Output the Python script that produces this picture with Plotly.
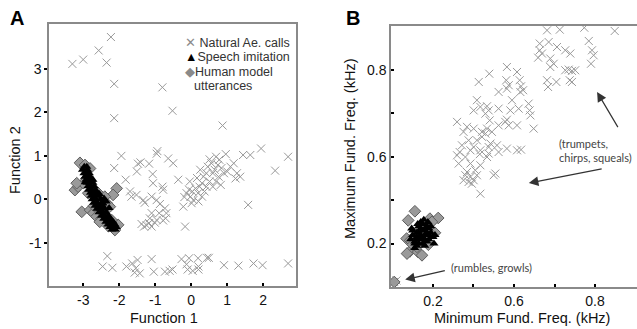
import plotly.graph_objects as go

# ---------------- Panel A data ----------------
a_nat_x = [-3.30, -3.00, -2.57, -2.23, -2.35, -2.14, -2.14, -0.80, -0.52, 0.87, 1.94, 2.69, 2.33, 1.58,
           -1.94, -2.14, -1.82, -1.48, -1.51, -1.41, -1.17, -1.07, -1.06, -0.96, -0.94, -0.64, -0.50, -0.36,
           -0.80, -0.78, -1.70, -1.66, -1.52, -1.33, -1.29, -1.10, -0.96, -0.87, -0.73, -0.69, -0.71, -0.78,
           -1.10, -1.15, -1.38, -1.31, -1.24, -1.17, -1.10, -1.01, -0.96, -0.89,
           -0.17, -0.22, -0.19, -0.13, -0.06, -0.02, 0.03, 0.12, 0.19, 0.23, 0.30, 0.25, 0.34, 0.42, 0.46,
           0.51, 0.56, 0.60, 0.65, 0.69, 0.74, 0.78, 0.84, 0.91, 0.96, 1.00, 1.09, 1.18, 1.23, 1.27, 1.36,
           1.44, 1.64, 0.42, 0.51, 0.37, 0.30, 0.20, 0.06, 0.01, -0.04, 0.16, 0.69, 0.82, 0.60, 0.76,
           -2.33, -2.46, -2.19, -1.80, -1.64, -1.54, -1.49, -1.57, -1.43, -1.10, -1.04, -0.73, -0.60, -0.52,
           -0.27, -0.13, -0.06, -0.10, 0.04, 0.20, 0.20, 0.19, 0.44, 0.49, 0.91, 1.31, 1.73, 1.98, 2.69]
a_nat_y = [3.12, 3.22, 3.43, 3.74, 3.15, 2.66, 1.87, 2.58, 2.04, 1.70, 1.17, 0.98, 0.66, -0.13,
           1.00, 0.72, 0.45, 0.82, 0.64, 0.85, 0.82, 0.58, 0.37, 1.05, 1.11, 0.94, 0.83, 0.45,
           0.29, 0.22, 0.18, 0.06, 0.10, -0.02, -0.08, 0.06, -0.02, -0.11, -0.21, -0.32, -0.44, -0.49,
           -0.32, -0.44, -0.57, -0.63, -0.60, -0.55, -0.63, -0.54, -0.48, -0.32,
           -0.63, -0.17, 0.05, 0.14, 0.22, 0.06, 0.18, 0.25, 0.14, 0.29, 0.37, 0.68, 0.52, 0.60, 0.75,
           0.92, 0.83, 0.60, 0.68, 0.98, 0.79, 0.91, 0.72, 0.60, 1.04, 0.64, 0.75, 0.83, 0.48, 0.60, 0.52,
           1.02, 1.02, 0.29, 0.41, 0.18, 0.06, -0.05, -0.02, -0.09, 0.41, 0.49, 0.41, 0.33, 0.29, 0.52,
           -1.31, -1.55, -1.58, -1.55, -1.48, -1.59, -1.40, -1.69, -1.71, -1.38, -1.67, -1.67, -1.65, -1.62,
           -1.38, -1.50, -1.36, -1.62, -1.65, -1.55, -1.62, -1.36, -1.35, -1.35, -1.52, -1.53, -1.48, -1.52, -1.48]

a_sp_x = [-2.97, -2.90, -3.02, -2.88, -2.98, -2.83, -2.91, -2.95, -2.80, -2.87, -2.92, -2.76, -2.85,
          -2.90, -2.73, -2.82, -2.87, -2.69, -2.79, -2.85, -2.66, -2.76, -2.80, -2.62, -2.71,
          -2.78, -2.58, -2.68, -2.75, -2.52, -2.65, -2.71, -2.49, -2.61, -2.67, -2.46, -2.57,
          -2.62, -2.42, -2.52, -2.56, -2.36, -2.46, -2.49, -2.30, -2.40, -2.43, -2.24, -2.33,
          -2.37, -2.17, -2.27, -2.31, -2.12, -2.21, -2.26, -2.08, -2.17, -2.20, -2.11,
          -2.42, -2.36, -2.45, -2.28, -2.55, -2.73, -2.94]
a_sp_y = [0.75, 0.75, 0.68, 0.68, 0.60, 0.60, 0.60, 0.52, 0.52, 0.52, 0.45, 0.45, 0.45,
          0.38, 0.38, 0.38, 0.30, 0.30, 0.30, 0.22, 0.22, 0.22, 0.15, 0.15, 0.15,
          0.08, 0.08, 0.08, 0.00, 0.00, 0.00, -0.08, -0.08, -0.08, -0.15, -0.15, -0.15,
          -0.22, -0.22, -0.22, -0.30, -0.30, -0.30, -0.38, -0.38, -0.38, -0.45, -0.45, -0.45,
          -0.52, -0.52, -0.52, -0.58, -0.58, -0.58, -0.64, -0.64, -0.64, -0.70, -0.70,
          0.02, -0.05, -0.10, -0.20, 0.12, 0.45, 0.40]

a_hm_x = [-3.09, -3.23, -3.14, -3.00, -2.86, -3.04, -2.81, -2.72, -2.63, -2.49, -2.54, -2.35, -2.07,
          -2.17, -2.03, -2.12, -2.95, -2.81, -2.91, -3.18, -2.58, -2.40, -2.40, -2.21, -2.26, -2.70, -2.30]
a_hm_y = [0.84, 0.21, 0.29, 0.37, 0.14, -0.29, -0.25, -0.32, -0.40, -0.44, -0.52, -0.09, 0.25,
          0.10, -0.59, -0.71, 0.79, 0.71, 0.48, 0.37, 0.14, 0.06, -0.36, -0.48, -0.17, -0.15, -0.62]

a_xticks = [-3, -2, -1, 0, 1, 2]
a_xtext = ["-3", "-2", "-1", "0", "1", "2"]
a_yticks = [-1, 0, 1, 2, 3]
a_ytext = ["-1", "0", "1", "2", "3"]

# ---------------- Panel B data ----------------
b_nat_x = [0.763, 0.826, 0.947, 1.097, 0.969, 0.727, 0.771, 0.727, 0.738, 0.719, 0.812, 0.853, 0.878,
           0.779, 0.796, 0.779, 0.985, 0.993, 0.980, 0.853, 0.870, 0.886, 0.902, 0.886, 0.875, 0.763,
           0.809, 0.768,
           0.478, 0.426, 0.565, 0.615, 0.628, 0.562, 0.574, 0.565, 0.635, 0.645, 0.631, 0.524, 0.590,
           0.417, 0.434, 0.467, 0.475, 0.459, 0.401, 0.524, 0.582, 0.672, 0.677, 0.681, 0.623, 0.615,
           0.319, 0.368, 0.401, 0.467, 0.480, 0.491, 0.524, 0.557, 0.574, 0.565, 0.697, 0.442,
           0.351, 0.376, 0.417, 0.442, 0.459, 0.401, 0.385, 0.434, 0.431, 0.475, 0.484, 0.516,
           0.343, 0.332, 0.319, 0.327, 0.360, 0.385, 0.475, 0.467, 0.565, 0.615, 0.635, 0.524,
           0.368, 0.360, 0.385, 0.376, 0.392, 0.401, 0.351, 0.417, 0.434, 0.500, 0.508, 0.409, 0.434,
           0.009, 0.020]
b_nat_y = [1.183, 1.186, 1.195, 1.180, 1.134, 1.122, 1.129, 1.091, 1.076, 1.057, 1.106, 1.091, 1.076,
           1.053, 1.029, 1.014, 1.091, 1.068, 1.029, 0.999, 1.002, 0.996, 0.999, 0.945, 0.953, 0.953,
           0.945, 0.922,
           0.983, 0.945, 1.014, 0.991, 0.953, 0.953, 0.930, 0.914, 0.925, 0.907, 0.899, 0.899, 0.861,
           0.861, 0.830, 0.833, 0.814, 0.799, 0.814, 0.822, 0.814, 0.845, 0.814, 0.791, 0.822, 0.745,
           0.761, 0.738, 0.730, 0.730, 0.768, 0.715, 0.745, 0.761, 0.745, 0.771, 0.730, 0.715,
           0.715, 0.676, 0.676, 0.692, 0.707, 0.645, 0.630, 0.630, 0.612, 0.645, 0.661, 0.653,
           0.653, 0.622, 0.607, 0.569, 0.599, 0.569, 0.615, 0.599, 0.638, 0.630, 0.633, 0.622,
           0.530, 0.515, 0.507, 0.484, 0.476, 0.492, 0.492, 0.515, 0.430, 0.515, 0.523, 0.538, 0.561,
           0.023, 0.030]

b_sp_x = [0.10, 0.12, 0.14, 0.16, 0.18, 0.11, 0.13, 0.15, 0.17, 0.19, 0.09, 0.12, 0.14, 0.16, 0.20,
          0.10, 0.13, 0.15, 0.17, 0.21, 0.11, 0.14, 0.16, 0.18, 0.12, 0.15, 0.13, 0.17, 0.19, 0.14,
          0.11, 0.15, 0.18, 0.13, 0.16, 0.095, 0.205, 0.175, 0.125, 0.155]
b_sp_y = [0.24, 0.25, 0.23, 0.24, 0.22, 0.21, 0.22, 0.20, 0.21, 0.25, 0.22, 0.19, 0.27, 0.26, 0.23,
          0.26, 0.28, 0.29, 0.28, 0.24, 0.18, 0.24, 0.19, 0.27, 0.23, 0.22, 0.20, 0.25, 0.28, 0.30,
          0.20, 0.26, 0.24, 0.25, 0.22, 0.27, 0.20, 0.30, 0.29, 0.31]

b_hm_x = [0.111, 0.078, 0.185, 0.226, 0.070, 0.086, 0.127, 0.177, 0.169, 0.136, 0.072, 0.146,
          0.088, 0.121, 0.195, 0.009, 0.210, 0.100]
b_hm_y = [0.349, 0.307, 0.315, 0.318, 0.223, 0.164, 0.161, 0.195, 0.269, 0.269, 0.154, 0.146,
          0.215, 0.185, 0.300, 0.023, 0.250, 0.195]

b_ticks = [0.2, 0.4, 0.6, 0.8, 1.0]
b_ticktext = ["0.2", "", "0.6", "", "0.8"]

# ---------------- styles ----------------
GRAY_X = "#999999"
DIAM_FILL = "#9a9a9a"
DIAM_LINE = "#5e5e5e"
FRAME = "#8a8a8a"
FONT = "Liberation Sans, Arial, sans-serif"

nat_marker = dict(symbol="x-thin-open", size=8, color=GRAY_X, line=dict(width=1, color=GRAY_X))
sp_marker = dict(symbol="triangle-up", size=8, color="black", line=dict(width=0))
hm_marker = dict(symbol="diamond", size=9, color=DIAM_FILL, line=dict(width=1, color=DIAM_LINE))

fig = go.Figure()
fig.add_trace(go.Scatter(x=a_nat_x, y=a_nat_y, mode="markers", marker=nat_marker, xaxis="x", yaxis="y"))
fig.add_trace(go.Scatter(x=a_hm_x, y=a_hm_y, mode="markers", marker=hm_marker, xaxis="x", yaxis="y"))
fig.add_trace(go.Scatter(x=a_sp_x, y=a_sp_y, mode="markers", marker=sp_marker, xaxis="x", yaxis="y"))

fig.add_trace(go.Scatter(x=b_nat_x, y=b_nat_y, mode="markers", marker=nat_marker, xaxis="x2", yaxis="y2"))
fig.add_trace(go.Scatter(x=b_hm_x, y=b_hm_y, mode="markers", marker=hm_marker, xaxis="x2", yaxis="y2"))
fig.add_trace(go.Scatter(x=b_sp_x, y=b_sp_y, mode="markers", marker=sp_marker, xaxis="x2", yaxis="y2"))

axis_common = dict(showgrid=False, zeroline=False, showline=True, linecolor=FRAME, linewidth=1.5,
                   ticklen=3, tickcolor="black", tickwidth=1.5,
                   tickfont=dict(family=FONT, size=14, color="#111"))

fig.update_layout(
    width=637, height=329,
    margin=dict(l=0, r=0, t=0, b=0),
    paper_bgcolor="white", plot_bgcolor="white",
    showlegend=False,
    xaxis=dict(domain=[0.0769, 0.4647], range=[-3.95, 2.91], tickvals=a_xticks, ticktext=a_xtext,
               ticks="inside", mirror=True, anchor="y", **axis_common),
    yaxis=dict(domain=[0.1307, 0.927], range=[-2.0, 4.04], tickvals=a_yticks, ticktext=a_ytext,
               ticks="outside", mirror=True, anchor="x", **axis_common),
    xaxis2=dict(domain=[0.6138, 1.0], range=[-0.007, 1.207], tickvals=b_ticks, ticktext=b_ticktext,
                ticks="inside", mirror=True, anchor="y2", **axis_common),
    yaxis2=dict(domain=[0.1277, 0.921], range=[0.0, 1.203], tickvals=b_ticks, ticktext=b_ticktext,
                ticks="inside", mirror=False, anchor="x2", **axis_common),
)

ann = []
# panel letters
for letter, px, py in [("A", 17, 18), ("B", 353, 18)]:
    ann.append(dict(text="<b>%s</b>" % letter, x=px / 637, y=1 - py / 329, xref="paper", yref="paper",
                    showarrow=False, xanchor="center", yanchor="middle",
                    font=dict(family=FONT, size=20, color="black")))
# axis titles
titles = [("Function 1", 163.5, 318, 0), ("Function 2", 15, 160, -90),
          ("Minimum Fund. Freq. (kHz)", 522, 318, 0), ("Maximum Fund. Freq. (kHz)", 350, 149, -90)]
for t, px, py, ang in titles:
    ann.append(dict(text=t, x=px / 637, y=1 - py / 329, xref="paper", yref="paper", showarrow=False,
                    textangle=ang, xanchor="center", yanchor="middle",
                    font=dict(family=FONT, size=14.5, color="#111")))

# legend in panel A (as text with glyph markers)
legend_rows = [
    ('<span style="color:#8c8c8c">✕</span> Natural Ae. calls', 42.7),
    ('<span style="color:black">▲</span>Speech imitation', 57.3),
    ('<span style="color:#8a8a8a">◆</span>Human model', 71.7),
    ('utterances', 86.0),
]
for i, (txt, py) in enumerate(legend_rows):
    ann.append(dict(text=txt, x=(183 if i < 3 else 192.3) / 637, y=1 - py / 329, xref="paper", yref="paper",
                    showarrow=False, xanchor="left", yanchor="middle",
                    font=dict(family=FONT, size=12.5, color="#333")))

# annotations in panel B
ann.append(dict(text="(trumpets,<br>chirps, squeals)", x=1.0, y=0.63, xref="x2", yref="y2",
                showarrow=False, align="left", xanchor="center", yanchor="middle",
                font=dict(family="Lato, sans-serif", size=11, color="#444")))
ann.append(dict(text="(rumbles, growls)", x=0.49, y=0.091, xref="x2", yref="y2", showarrow=False,
                xanchor="center", yanchor="middle", font=dict(family="Lato, sans-serif", size=11, color="#444")))
arrows = [((1.117, 0.730), (1.010, 0.899)), ((1.040, 0.546), (0.673, 0.479)), ((0.266, 0.077), (0.063, 0.034))]
for (tx, ty), (hx, hy) in arrows:
    ann.append(dict(x=hx, y=hy, ax=tx, ay=ty, xref="x2", yref="y2", axref="x2", ayref="y2", text="",
                    showarrow=True, arrowhead=2, arrowsize=1.6, arrowwidth=1.2, arrowcolor="#333"))

fig.update_layout(annotations=ann)
fig.write_html("out.html", config={"displayModeBar": False},
               post_script="document.body.style.margin='0px';document.body.style.overflow='hidden';")
